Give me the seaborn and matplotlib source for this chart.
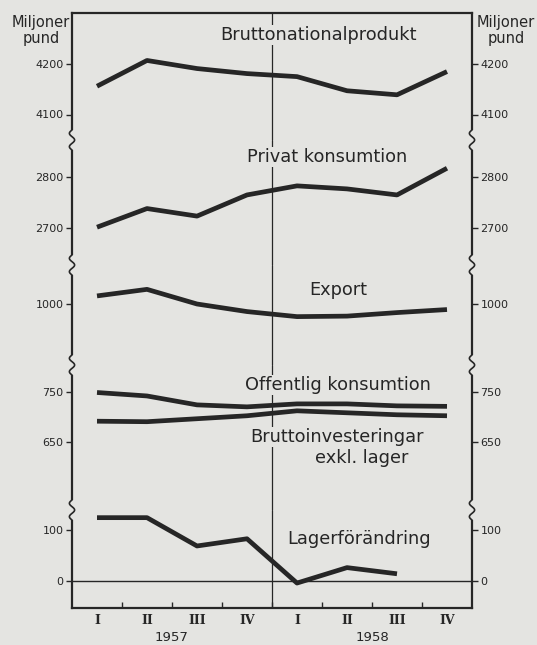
import numpy as np
import pandas as pd
import matplotlib
matplotlib.use("Agg")
import matplotlib.pyplot as plt
from matplotlib.lines import Line2D
from matplotlib.patches import Rectangle
import seaborn as sns

# kvartal 1957-1958
quarters = ['I', 'II', 'III', 'IV', 'I', 'II', 'III', 'IV']
years = ['1957', '1958']

# miljoner pund
bnp = [4156, 4207, 4191, 4181, 4175, 4147, 4139, 4185]
privat = [2701, 2738, 2723, 2765, 2783, 2777, 2765, 2818]
export = [1016, 1029, 1000, 985, 975, 976, 983, 989]
offentlig = [750, 743, 725, 721, 727, 727, 723, 722]
brutto = [692, 691, 697, 703, 713, 709, 705, 703]
lager = [123, 123, 68, 82, -4, 26, 14]

W, H = 537, 645
BG = '#e4e4e1'
INK = '#262626'

sns.set_theme(style='white')
plt.rcParams['font.family'] = ['DejaVu Sans']

fig = plt.figure(figsize=(W / 100, H / 100), dpi=100, facecolor=BG)

left_px, right_px = 72, 472

# (topp px, botten px, [(tick, px), (tick, px)], serier)
panels = [
    (13, 140, [(4100, 114.5), (4200, 64)], [bnp]),
    (140, 265, [(2700, 227.7), (2800, 177.3)], [privat]),
    (265, 365, [(1000, 304), (1100, 253.5)], [export]),
    (365, 510, [(650, 442), (750, 392.5)], [offentlig, brutto]),
    (510, 607.5, [(0, 581), (100, 529.5)], [lager]),
]

axes = []
for i, (top, bottom, ticks, series) in enumerate(panels):
    ax = fig.add_axes([left_px / W, 1 - bottom / H,
                       (right_px - left_px) / W, (bottom - top) / H])
    ax.set_facecolor(BG)
    (t1, p1), (t2, p2) = ticks
    scale = (p1 - p2) / (t2 - t1)
    ax.set_ylim(t1 - (bottom - p1) / scale, t2 + (p2 - top) / scale)
    ax.set_xlim(-0.5, 7.5)

    for s in series:
        df = pd.DataFrame({'q': np.arange(len(s)), 'v': s})
        sns.lineplot(data=df, x='q', y='v', ax=ax, color=INK,
                     linewidth=3.4, zorder=4, solid_capstyle='butt')

    ax.axvline(3.5, color=INK, linewidth=0.9, zorder=1)

    yt = [t for t, p in ticks if top < p < bottom]
    ax.set_yticks(yt)
    ax.set_yticklabels([str(t) for t in yt])
    ax.tick_params(axis='y', which='both', left=True, right=True,
                   labelleft=True, labelright=True, direction='out',
                   length=4, width=1, color=INK, labelcolor=INK,
                   labelsize=8, pad=2)
    ax.set_xlabel('')
    ax.set_ylabel('')

    for side in ['left', 'right']:
        ax.spines[side].set_linewidth(1.6)
        ax.spines[side].set_color(INK)
    ax.spines['top'].set_visible(i == 0)
    ax.spines['bottom'].set_visible(i == len(panels) - 1)
    for side in ['top', 'bottom']:
        ax.spines[side].set_linewidth(1.6)
        ax.spines[side].set_color(INK)

    if i < len(panels) - 1:
        ax.set_xticks([])
    axes.append(ax)

# nederst: nollinje och kvartalsaxel
ax = axes[-1]
ax.axhline(0, color=INK, linewidth=1.0, zorder=1)
ax.set_xticks(range(len(quarters)))
ax.set_xticklabels(quarters, family='DejaVu Serif', fontsize=9,
                   fontweight='bold', color=INK)
ax.set_xticks(np.arange(0.5, 7, 1), minor=True)
ax.tick_params(axis='x', which='major', length=0, pad=5)
ax.tick_params(axis='x', which='minor', direction='in', length=4,
               width=1, color=INK, bottom=True)
for k, yr in enumerate(years):
    ax.text(1.5 + 4 * k, -0.31, yr, transform=ax.get_xaxis_transform(),
            ha='center', va='center', fontsize=9.5, color=INK)


def ftext(x, y, s, size=12.8, ha='center'):
    fig.text(x / W, 1 - y / H, s, ha=ha, va='center', fontsize=size,
             color=INK, zorder=5,
             bbox=dict(facecolor=BG, edgecolor='none', pad=1.0))


ftext(318, 35, 'Bruttonationalprodukt')
ftext(327, 157, 'Privat konsumtion')
ftext(338, 290, 'Export')
ftext(338, 385, 'Offentlig konsumtion')
ftext(337, 437, 'Bruttoinvesteringar')
ftext(362, 458, 'exkl. lager')
ftext(359, 539, 'Lagerförändring')

for xc in [41, 506]:
    fig.text(xc / W, 1 - 22 / H, 'Miljoner', ha='center', va='center',
             fontsize=10.5, color=INK)
    fig.text(xc / W, 1 - 38 / H, 'pund', ha='center', va='center',
             fontsize=10.5, color=INK)

# brytmarkeringar på y-axlarna
tt = np.linspace(0, 3 * np.pi, 80)
for yb in [140, 265, 365, 510]:
    for xb in [left_px, right_px]:
        fig.add_artist(Rectangle(((xb - 4) / W, 1 - (yb + 10) / H), 8 / W, 20 / H,
                                 transform=fig.transFigure, facecolor=BG,
                                 edgecolor='none', zorder=8))
        xs = (xb - 2.6 * np.sin(tt)) / W
        ys = 1 - (yb - 10 + 20 * tt / (3 * np.pi)) / H
        fig.add_artist(Line2D(xs, ys, transform=fig.transFigure, color=INK,
                              linewidth=1.2, zorder=9))

fig.savefig('out.png', dpi=100, facecolor=BG)
